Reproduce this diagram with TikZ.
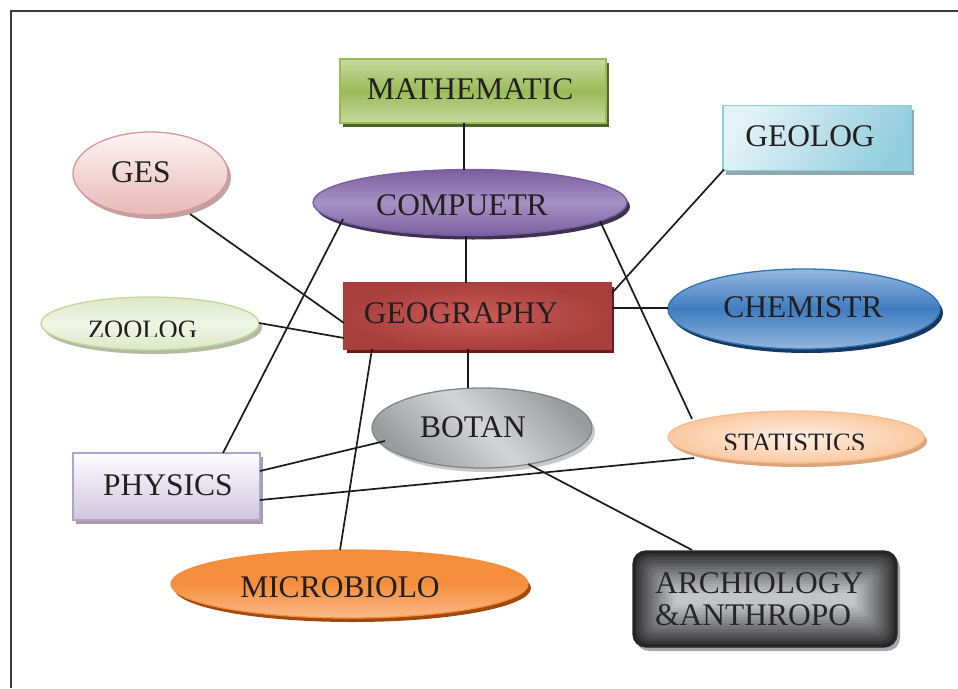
\documentclass[tikz,border=0pt]{standalone}
\usepackage{fontspec}
\setmainfont{Liberation Serif}
\usetikzlibrary{shapes.geometric,shadows,calc}
\definecolor{txt}{HTML}{231F20}
\definecolor{linec}{HTML}{1A1A1A}
\definecolor{framec}{HTML}{3A3A3A}
\definecolor{mathL}{HTML}{C6D9A0}
\definecolor{mathD}{HTML}{9BBB59}
\definecolor{mathB}{HTML}{9BBB59}
\definecolor{mathS}{HTML}{4F6228}
\definecolor{cyL}{HTML}{E2F2F6}
\definecolor{cyD}{HTML}{93CEDD}
\definecolor{cyB}{HTML}{8ECFDE}
\definecolor{cyS}{HTML}{8FA9B0}
\definecolor{gesL}{HTML}{FCF5F5}
\definecolor{gesD}{HTML}{E8B8B7}
\definecolor{gesB}{HTML}{DA9694}
\definecolor{gesS}{HTML}{BFA3A3}
\definecolor{cmL}{HTML}{A592C4}
\definecolor{cmD}{HTML}{7B5FA0}
\definecolor{cmB}{HTML}{7A5C9E}
\definecolor{cmS}{HTML}{3F3151}
\definecolor{geL}{HTML}{CB5B57}
\definecolor{geD}{HTML}{A7403D}
\definecolor{geS}{HTML}{6B1C1A}
\definecolor{zoL}{HTML}{F0F5E6}
\definecolor{zoD}{HTML}{DCE8C6}
\definecolor{zoB}{HTML}{C3D69B}
\definecolor{zoS}{HTML}{B3BBA3}
\definecolor{chL}{HTML}{94B6DF}
\definecolor{chD}{HTML}{3F7CC0}
\definecolor{chB}{HTML}{2E74B5}
\definecolor{chS}{HTML}{17375E}
\definecolor{boL}{HTML}{D4D5D7}
\definecolor{boD}{HTML}{9A9B9D}
\definecolor{boB}{HTML}{858585}
\definecolor{boS}{HTML}{C9C9C9}
\definecolor{stL}{HTML}{FDEFE5}
\definecolor{stD}{HTML}{FAC9A0}
\definecolor{stB}{HTML}{F9BE8E}
\definecolor{stS}{HTML}{D8A57F}
\definecolor{phL}{HTML}{FDFDFE}
\definecolor{phD}{HTML}{CFC5DD}
\definecolor{phB}{HTML}{B3A3C8}
\definecolor{phS}{HTML}{A69DB3}
\definecolor{miL}{HTML}{FAB988}
\definecolor{miD}{HTML}{F58F3D}
\definecolor{miB}{HTML}{F58F3D}
\definecolor{miS}{HTML}{A14A10}
\definecolor{arC}{HTML}{C4C5C9}
\definecolor{arD}{HTML}{262626}
\definecolor{arS}{HTML}{A7A8AC}
\begin{document}
\begin{tikzpicture}[x=1pt,y=-1pt,
  shp/.style={inner sep=0pt, outer sep=0pt, line width=1.3pt},
  ell/.style={shp, ellipse},
  box/.style={shp, rectangle},
  shd/.style={general shadow={fill=#1, shadow xshift=3pt, shadow yshift=-4pt}},
  lbl/.style={inner sep=0pt, anchor=base, text=txt, font=\fontsize{31.5}{32}\selectfont},
  lblsmall/.style={lbl, font=\fontsize{26.5}{27}\selectfont},
  link/.style={line width=1.7pt, draw=linec},
  frame/.style={line width=1.8pt, draw=framec}]
\useasboundingbox (0,0) rectangle (958,688);
% frame
\coordinate (fA) at (958,11);
\coordinate (fB) at (11,11);
\coordinate (fC) at (11,688);
\draw[frame] (fA) -- (fB) -- (fC);
% shapes
\node[box, minimum width=266pt, minimum height=64pt, draw=mathB, top color=mathL, bottom color=mathL, middle color=mathD, shd=mathS] (math) at (473,91) {};
\node[box, minimum width=188pt, minimum height=65pt, draw=cyB, left color=cyL, right color=cyD, shading angle=60, shd=cyS] (geol) at (817,138) {};
\node[ell, minimum width=155pt, minimum height=83pt, draw=gesB, top color=gesL, bottom color=gesD, shd=gesS] (ges) at (150.5,173.5) {};
\node[ell, minimum width=314pt, minimum height=66pt, draw=cmB, top color=cmD, bottom color=cmD, middle color=cmL, shd=cmS] (comp) at (470,202.5) {};
\node[box, minimum width=267pt, minimum height=66pt, draw=geD, inner color=geL, outer color=geD, shd=geS] (geo) at (477.5,316) {};
\node[ell, minimum width=218pt, minimum height=53pt, draw=zoB, top color=zoD, bottom color=zoD, middle color=zoL, shd=zoS] (zoo) at (150,323.5) {};
\node[ell, minimum width=272pt, minimum height=80pt, draw=chB, top color=chL, bottom color=chL, middle color=chD, shd=chS] (chem) at (804,309) {};
\node[ell, minimum width=220pt, minimum height=80pt, draw=boB, left color=boD, right color=boD, middle color=boL, shading angle=135, shd=boS] (botan) at (482,428) {};
\node[ell, minimum width=256pt, minimum height=52pt, draw=stB, inner color=stL, outer color=stD, shd=stS] (stat) at (796,437) {};
\node[box, minimum width=187pt, minimum height=67pt, draw=phB, top color=phL, bottom color=phD, shd=phS] (phys) at (166.5,486.5) {};
\node[ell, minimum width=357pt, minimum height=68pt, draw=miB, top color=miD, bottom color=miL, middle color=miD, shd=miS] (micro) at (349.5,584) {};
\node[box, rounded corners=13pt, minimum width=264pt, minimum height=96pt, draw=arD, fill=arD, shd=arS] (arch) at (765,599) {};
% stepped rectangular gradient inside the dark box
\foreach \i in {1,...,14} {
  \pgfmathsetmacro\d{\i*3}
  \pgfmathsetmacro\p{100*(\i/14)^0.85}
  \pgfmathsetmacro\r{max(2,13-\d*0.28)}
  \fill[arC!\p!arD, rounded corners=\r pt]
    ($(arch.south west)+(\d,-\d)$) rectangle ($(arch.north east)+(-\d,\d)$);
}
% labels
\node[lbl] (mathT) at (470,99) {MATHEMATIC};
\node[lbl] (geolT) at (810,146) {GEOLOG};
\node[lbl] (gesT) at (141,182) {GES};
\node[lbl] (compT) at (462,215) {COMPUETR};
\node[lbl] (geoT) at (461,323) {GEOGRAPHY};
\begin{scope}
\clip (0,0) rectangle (958,336.5);
\node[lblsmall] (zooT) at (142.5,338) {ZOOLOG};
\end{scope}
\node[lbl] (chemT) at (803,317) {CHEMISTR};
\node[lbl] (botanT) at (473,437) {BOTAN};
\begin{scope}
\clip (0,0) rectangle (958,449.5);
\node[lblsmall] (statT) at (794.5,451) {STATISTICS};
\end{scope}
\node[lbl] (physT) at (168,495) {PHYSICS};
\node[lbl] (microT) at (340,597) {MICROBIOLO};
\node[lbl, anchor=base west, text=black!85] (arch1) at (655,593) {ARCHIOLOGY};
\node[lbl, anchor=base west, text=black!85] (arch2) at (655,625) {\&ANTHROPO};
% connectors
\draw[link] ($(math.south)+(-9,0)$) -- ($(comp.north)+(-6,0)$);
\draw[link] ($(comp.south)+(-4,0)$) -- ($(geo.north)+(-11.5,0)$);
\draw[link] ($(ges.center)+(39.5,40.5)$) -- ($(geo.west)+(0,7)$);
\draw[link] ($(zoo.east)+(0,-0.5)$) -- ($(geo.west)+(0,22)$);
\draw[link] ($(comp.center)+(-127,16.5)$) -- ($(phys.north)+(56.5,0)$);
\draw[link] ($(comp.center)+(130,18.5)$) -- ($(stat.center)+(-104,-18)$);
\draw[link] ($(geol.south west)+(1,-1)$) -- ($(geo.east)+(1,-23)$);
\draw[link] ($(geo.east)+(1,-8)$) -- ($(chem.west)+(0,-1)$);
\draw[link] ($(geo.south)+(-9.5,0)$) -- ($(botan.north)+(-14,0)$);
\draw[link] ($(geo.south west)+(28,0)$) -- ($(micro.north)+(-9.5,0)$);
\draw[link] ($(botan.center)+(-97,13)$) -- ($(phys.east)+(0,-15.5)$);
\draw[link] ($(stat.center)+(-102,21)$) -- ($(phys.east)+(0,13.5)$);
\draw[link] ($(botan.center)+(46,36)$) -- ($(arch.north)+(-73,-1)$);
\end{tikzpicture}
\end{document}
